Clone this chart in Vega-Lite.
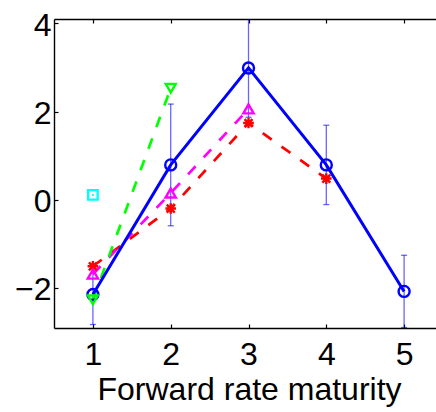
{
  "$schema": "https://vega.github.io/schema/vega-lite/v6.json",
  "width": 382,
  "height": 309,
  "autosize": "none",
  "padding": {"left": 54, "top": 19, "right": 0, "bottom": 84},
  "background": "white",
  "config": {
    "view": {"stroke": null},
    "axis": {
      "grid": false,
      "domainColor": "black",
      "domainWidth": 1.4,
      "tickColor": "black",
      "tickWidth": 1.2,
      "tickSize": -4,
      "labelFont": "Liberation Sans",
      "labelFontSize": 32,
      "labelColor": "black",
      "titleFont": "Liberation Sans",
      "titleFontSize": 32,
      "titleFontWeight": "normal",
      "titleColor": "black"
    }
  },
  "datasets": {
    "curves": [
      {"series": "s1", "x": 1, "y": -2.15},
      {"series": "s1", "x": 2, "y": 0.79},
      {"series": "s1", "x": 3, "y": 2.99},
      {"series": "s1", "x": 4, "y": 0.79},
      {"series": "s1", "x": 5, "y": -2.08},
      {"series": "s2", "x": 1, "y": -1.51},
      {"series": "s2", "x": 2, "y": -0.2},
      {"series": "s2", "x": 3, "y": 1.74},
      {"series": "s2", "x": 4, "y": 0.48},
      {"series": "s3", "x": 1, "y": -1.69},
      {"series": "s3", "x": 2, "y": 0.15},
      {"series": "s3", "x": 3, "y": 2.06},
      {"series": "s4", "x": 1, "y": -2.27},
      {"series": "s4", "x": 2, "y": 2.53},
      {"series": "s5", "x": 1, "y": 0.11}
    ],
    "bands": [
      {"x": 1, "lo": -2.83, "hi": -1.47},
      {"x": 2, "lo": -0.59, "hi": 2.17},
      {"x": 3, "lo": 1.87, "hi": 4.11},
      {"x": 4, "lo": -0.11, "hi": 1.69},
      {"x": 5, "lo": -2.9, "hi": -1.26}
    ]
  },
  "resolve": {"axis": {"x": "independent"}},
  "layer": [
    {
      "data": {"name": "bands"},
      "mark": {"type": "rule", "color": "#0000ff", "opacity": 0.6, "strokeWidth": 1.3, "clip": true},
      "encoding": {
        "x": {"field": "x", "type": "quantitative", "scale": {"domain": [0.5, 5.41], "nice": false},
              "axis": {"orient": "top", "labels": false, "title": null, "values": [1, 2, 3, 4, 5]}},
        "y": {"field": "lo", "type": "quantitative", "scale": {"domain": [-2.91, 4.1], "nice": false},
              "axis": {"title": null, "values": [-2, 0, 2, 4], "labelPadding": 7, "labelOffset": 2}},
        "y2": {"field": "hi"}
      }
    },
    {
      "data": {"name": "bands"},
      "mark": {"type": "tick", "orient": "horizontal", "color": "#0000ff", "opacity": 0.6, "size": 6, "thickness": 1.3, "clip": true},
      "encoding": {
        "x": {"field": "x", "type": "quantitative", "axis": null},
        "y": {"field": "lo", "type": "quantitative", "title": null,
              "axis": {"title": null, "values": [-2, 0, 2, 4], "labelPadding": 7, "labelOffset": 2}}
      }
    },
    {
      "data": {"name": "bands"},
      "mark": {"type": "tick", "orient": "horizontal", "color": "#0000ff", "opacity": 0.6, "size": 6, "thickness": 1.3, "clip": true},
      "encoding": {
        "x": {"field": "x", "type": "quantitative", "axis": null},
        "y": {"field": "hi", "type": "quantitative", "title": null,
              "axis": {"title": null, "values": [-2, 0, 2, 4], "labelPadding": 7, "labelOffset": 2}}
      }
    },
    {
      "data": {"name": "curves"},
      "transform": [{"filter": "datum.series !== 's1'"}],
      "mark": {"type": "line", "strokeWidth": 2.7, "clip": true},
      "encoding": {
        "x": {"field": "x", "type": "quantitative", "axis": null},
        "y": {"field": "y", "type": "quantitative", "title": null,
              "axis": {"title": null, "values": [-2, 0, 2, 4], "labelPadding": 7, "labelOffset": 2}},
        "color": {"field": "series", "type": "nominal", "legend": null,
                  "scale": {"domain": ["s1", "s2", "s3", "s4", "s5"], "range": ["#0000ff", "#ff0000", "#ff00ff", "#00ff00", "#00ffff"]}},
        "strokeDash": {"field": "series", "type": "nominal", "legend": null,
                       "scale": {"domain": ["s1", "s2", "s3", "s4", "s5"], "range": [[1, 0], [11, 12], [11, 12], [11, 12], [1, 0]]}}
      }
    },
    {
      "data": {"name": "curves"},
      "transform": [{"filter": "datum.series === 's1'"}],
      "mark": {"type": "line", "strokeWidth": 3, "color": "#0000ff", "clip": true},
      "encoding": {
        "x": {"field": "x", "type": "quantitative",
              "axis": {"orient": "bottom", "title": "Forward rate maturity", "values": [1, 2, 3, 4, 5], "labelPadding": 15, "titlePadding": 4, "titleX": 195}},
        "y": {"field": "y", "type": "quantitative", "title": null,
              "axis": {"title": null, "values": [-2, 0, 2, 4], "labelPadding": 7, "labelOffset": 2}}
      }
    },
    {
      "data": {"name": "curves"},
      "mark": {"type": "point", "filled": false, "strokeWidth": 2.4, "opacity": 1, "clip": true},
      "encoding": {
        "x": {"field": "x", "type": "quantitative", "axis": null},
        "y": {"field": "y", "type": "quantitative", "title": null,
              "axis": {"title": null, "values": [-2, 0, 2, 4], "labelPadding": 7, "labelOffset": 2}},
        "color": {"field": "series", "type": "nominal", "legend": null},
        "shape": {"field": "series", "type": "nominal", "legend": null,
                  "scale": {"domain": ["s1", "s2", "s3", "s4", "s5"],
                            "range": ["circle", "M-1,0L1,0M0,-1L0,1M-0.75,-0.75L0.75,0.75M-0.75,0.75L0.75,-0.75", "triangle-up", "triangle-down", "square"]}},
        "size": {"field": "series", "type": "nominal", "legend": null,
                 "scale": {"domain": ["s1", "s2", "s3", "s4", "s5"], "range": [121, 90, 180, 180, 81]}}
      }
    },
    {
      "data": {"name": "curves"},
      "transform": [{"filter": "datum.series === 's5'"}],
      "mark": {"type": "point", "filled": true, "shape": "circle", "size": 5, "color": "#00ffff", "opacity": 1},
      "encoding": {
        "x": {"field": "x", "type": "quantitative", "axis": null},
        "y": {"field": "y", "type": "quantitative", "title": null,
              "axis": {"title": null, "values": [-2, 0, 2, 4], "labelPadding": 7, "labelOffset": 2}}
      }
    }
  ]
}
